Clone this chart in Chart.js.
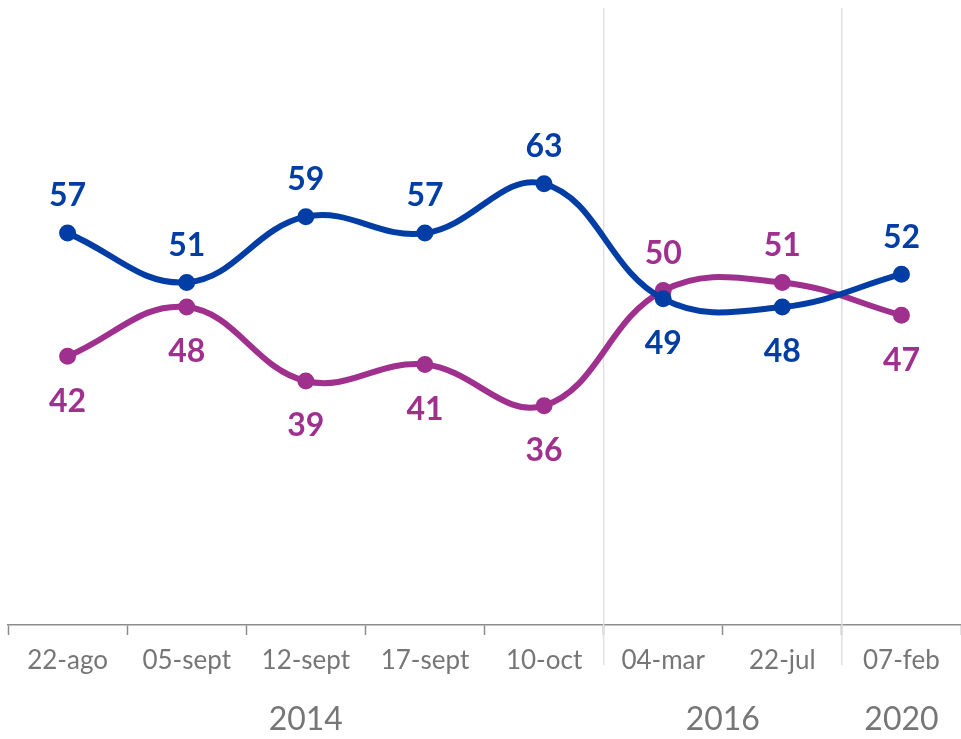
<!DOCTYPE html>
<html>
<head>
<meta charset="utf-8">
<script src="https://cdn.jsdelivr.net/npm/chart.js@4.4.1/dist/chart.umd.min.js"></script>
<style>
  body { margin: 0; background: #fff; }
</style>
</head>
<body>
<canvas id="myChart" width="961" height="739"></canvas>
<script>
// données
const dates = ['22-ago', '05-sept', '12-sept', '17-sept', '10-oct', '04-mar', '22-jul', '07-feb'];
const serieBleue = [57, 51, 59, 57, 63, 49, 48, 52];
const serieViolette = [42, 48, 39, 41, 36, 50, 51, 47];
const annees = ['2014', '2016', '2020'];
const anneesDebut = [0, 5, 7];
const anneesFin = [4, 6, 7];

const bleu = '#003da5';
const violet = '#a0308e';
const gris = '#767676';

// label au-dessus (-1) ou en dessous (1) du point
const posBleue = [-1, -1, -1, -1, -1, 1, 1, -1];
const posViolette = [1, 1, 1, 1, 1, -1, -1, 1];

const etiquettes = {
    id: 'etiquettes',
    afterDatasetsDraw(chart) {
        const ctx = chart.ctx;
        ctx.save();
        ctx.font = 'bold 32px Lato';
        ctx.textAlign = 'center';
        ctx.textBaseline = 'middle';
        chart.data.datasets.forEach((ds, d) => {
            const meta = chart.getDatasetMeta(d);
            const pos = d === 0 ? posBleue : posViolette;
            ctx.fillStyle = ds.borderColor;
            meta.data.forEach((pt, i) => {
                const dy = pos[i] < 0 ? -37 : 45;
                ctx.fillText(ds.data[i], pt.x, pt.y + dy);
            });
        });
        ctx.restore();
    }
};

const separateurs = {
    id: 'separateurs',
    beforeDatasetsDraw(chart) {
        const ctx = chart.ctx;
        const x = chart.scales.x;
        ctx.save();
        ctx.strokeStyle = '#e0e0e0';
        ctx.lineWidth = 1.5;
        for (let a = 1; a < anneesDebut.length; a++) {
            const i = anneesDebut[a];
            const px = (x.getPixelForValue(i - 1) + x.getPixelForValue(i)) / 2;
            ctx.beginPath();
            ctx.moveTo(px, chart.chartArea.top);
            ctx.lineTo(px, 665);
            ctx.stroke();
        }
        ctx.restore();
    },
    afterDraw(chart) {
        const ctx = chart.ctx;
        const x = chart.scales.x;
        ctx.save();
        ctx.font = '32px Lato';
        ctx.fillStyle = gris;
        ctx.textAlign = 'center';
        ctx.textBaseline = 'middle';
        annees.forEach((an, a) => {
            const px = (x.getPixelForValue(anneesDebut[a]) + x.getPixelForValue(anneesFin[a])) / 2;
            ctx.fillText(an, px, 720);
        });
        ctx.restore();
    }
};

const ctx = document.getElementById('myChart').getContext('2d');
const chart = new Chart(ctx, {
    type: 'line',
    data: {
        labels: dates,
        datasets: [{
            label: 'bleu',
            data: serieBleue,
            borderColor: bleu,
            backgroundColor: bleu,
            borderWidth: 6,
            pointRadius: 5.5,
            pointHoverRadius: 5.5,
            tension: 0.4,
            fill: false
        }, {
            label: 'violet',
            data: serieViolette,
            borderColor: violet,
            backgroundColor: violet,
            borderWidth: 6,
            pointRadius: 5.5,
            pointHoverRadius: 5.5,
            tension: 0.4,
            fill: false
        }]
    },
    options: {
        responsive: false,
        animation: false,
        layout: { autoPadding: false, padding: { top: 8, left: 8, right: -1, bottom: 0 } },
        plugins: {
            legend: { display: false },
            tooltip: { enabled: false }
        },
        scales: {
            x: {
                offset: true,
                afterFit(scale) { scale.height = 114; },
                grid: {
                    offset: true,
                    drawOnChartArea: false,
                    drawTicks: true,
                    tickLength: 10,
                    tickColor: '#8c8c8c',
                    tickWidth: 1.5
                },
                border: { display: true, color: '#8c8c8c', width: 1.5 },
                ticks: {
                    color: gris,
                    font: { family: 'Lato', size: 26 },
                    padding: 10,
                    maxRotation: 0,
                    autoSkip: false
                }
            },
            y: {
                display: false,
                min: 9.3,
                max: 84.4
            }
        }
    },
    plugins: [separateurs, etiquettes]
});
</script>
</body>
</html>
